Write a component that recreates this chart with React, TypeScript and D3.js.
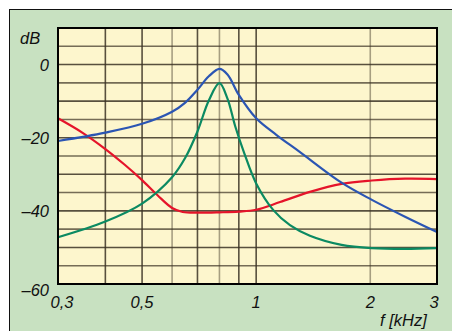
import React from 'react';
import * as d3 from 'd3';

// frequencies in kHz, levels in dB
const blueFreq = [0.3, 0.4, 0.5, 0.6, 0.65, 0.7, 0.75, 0.8, 0.84, 0.9, 1.0, 1.13, 1.3, 1.68, 2.02, 2.47, 3.0];
const blueDb = [-20.9, -18.6, -16.2, -12.9, -10.4, -6.9, -3.2, -1.2, -2.7, -8.3, -14.7, -19.2, -23.8, -32.3, -37.0, -41.6, -45.8];

const redFreq = [0.3, 0.35, 0.4, 0.45, 0.5, 0.55, 0.6, 0.64, 0.7, 0.8, 0.9, 1.0, 1.156, 1.386, 1.68, 2.02, 2.47, 3.0];
const redDb = [-14.7, -18.8, -23.1, -27.4, -31.6, -35.8, -39.2, -40.3, -40.5, -40.4, -40.2, -39.7, -37.6, -34.8, -32.6, -31.7, -31.2, -31.3];

const greenFreq = [0.3, 0.4, 0.5, 0.6, 0.65, 0.7, 0.75, 0.8, 0.84, 0.88, 0.93, 1.0, 1.11, 1.228, 1.386, 1.68, 2.02, 2.47, 3.0];
const greenDb = [-47.2, -42.9, -38.0, -30.8, -25.5, -18.3, -9.8, -5.1, -9.3, -16.8, -24.2, -32.5, -39.8, -43.9, -46.8, -49.3, -50.2, -50.4, -50.2];

const xTickValues = [0.3, 0.5, 1, 2, 3];
const xTickLabels = ['0,3', '0,5', '1', '2', '3'];
const xGridValues = [0.4, 0.5, 0.6, 0.7, 0.8, 0.9, 1, 2];
const xGridLight = [0.6, 0.8, 2];
const yTickValues = [0, -20, -40, -60];
const yTickLabels = ['0', '\u201320', '\u201340', '\u201360'];
const yGridValues = [5, 0, -5, -10, -15, -20, -25, -30, -35, -40, -45, -50, -55];

const W = 452;
const H = 331;
const plot = { left: 58, top: 28, right: 437, bottom: 284 };

const x = d3.scaleLog().domain([0.3, 3]).range([plot.left, plot.right]);
const y = d3.scaleLinear().domain([-60, 10]).range([plot.bottom, plot.top]);

const line = d3
  .line<[number, number]>()
  .x(d => x(d[0]))
  .y(d => y(d[1]))
  .curve(d3.curveCatmullRom.alpha(0.5));

const zip = (f: number[], v: number[]) => f.map((d, i) => [d, v[i]] as [number, number]);

const series = [
  { name: 'red', color: '#e5142a', pts: zip(redFreq, redDb) },
  { name: 'green', color: '#0b8a62', pts: zip(greenFreq, greenDb) },
  { name: 'blue', color: '#2b55b3', pts: zip(blueFreq, blueDb) },
];

const font = '"Liberation Sans", Arial, sans-serif';
const fs = 16.5;

export default function App() {
  return (
    <svg
      width={W}
      height={H}
      style={{ position: 'absolute', left: 0, top: 0, background: '#fff' }}
      fontFamily={font}
    >
      {/* outer green panel */}
      <rect x={9.5} y={9.5} width={W} height={H} fill="#c8e1c1" stroke="#111" strokeWidth={1} />

      {/* plot area */}
      <rect
        x={plot.left}
        y={plot.top}
        width={plot.right - plot.left}
        height={plot.bottom - plot.top}
        fill="#fdf6cd"
      />

      {/* grid */}
      <g>
        {yGridValues.map(v => (
          <line
            key={'h' + v}
            x1={plot.left}
            x2={plot.right}
            y1={y(v)}
            y2={y(v)}
            stroke="#3b3224"
            strokeOpacity={v % 10 === 0 ? 0.85 : 0.7}
            strokeWidth={1.6}
          />
        ))}
        {xGridValues.map(v => (
          <line
            key={'v' + v}
            x1={x(v)}
            x2={x(v)}
            y1={plot.top}
            y2={plot.bottom}
            stroke="#3b3224"
            strokeOpacity={xGridLight.includes(v) ? 0.45 : 0.85}
            strokeWidth={1.6}
          />
        ))}
      </g>

      {/* curves */}
      {series.map(s => (
        <path
          key={s.name}
          d={line(s.pts) || ''}
          fill="none"
          stroke={s.color}
          strokeWidth={2.2}
          strokeLinejoin="round"
        />
      ))}

      {/* plot border */}
      <rect
        x={plot.left}
        y={plot.top}
        width={plot.right - plot.left}
        height={plot.bottom - plot.top}
        fill="none"
        stroke="#000"
        strokeWidth={2}
      />

      {/* y labels */}
      <text x={20} y={44} fontSize={fs} fontStyle="italic" fill="#111">dB</text>
      {yTickValues.map((v, i) => (
        <text
          key={'yl' + v}
          x={49}
          y={y(v) + (i === yTickValues.length - 1 ? 12 : 6)}
          fontSize={fs}
          fontStyle="italic"
          textAnchor="end"
          fill="#111"
        >
          {yTickLabels[i]}
        </text>
      ))}

      {/* x labels */}
      {xTickValues.map((v, i) => {
        let dx = 0;
        if (i === 0) dx = 4;
        if (i === xTickValues.length - 1) dx = -3;
        return (
          <text
            key={'xl' + v}
            x={x(v) + dx}
            y={308}
            fontSize={fs}
            fontStyle="italic"
            textAnchor="middle"
            fill="#111"
          >
            {xTickLabels[i]}
          </text>
        );
      })}
      <text x={380} y={326} fontSize={fs} fontStyle="italic" fill="#111">f [kHz]</text>
    </svg>
  );
}
